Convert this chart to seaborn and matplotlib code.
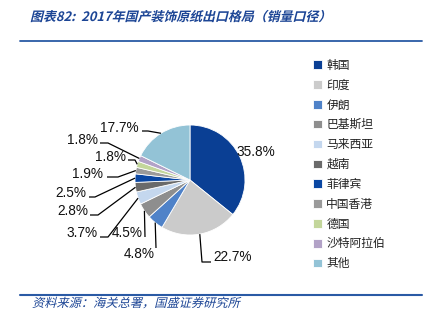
import matplotlib
matplotlib.use("Agg")
import matplotlib.pyplot as plt
import seaborn as sns
import numpy as np
from matplotlib.patheffects import AbstractPathEffect
from matplotlib.transforms import Affine2D
from matplotlib.lines import Line2D

# ---- data ----
categories = ["韩国", "印度", "伊朗", "巴基斯坦", "马来西亚", "越南", "菲律宾",
              "中国香港", "德国", "沙特阿拉伯", "其他"]
shares = [35.8, 22.7, 4.8, 4.5, 3.7, 2.8, 2.5, 1.9, 1.8, 1.8, 17.7]
pct_labels = ["35.8%", "22.7%", "4.8%", "4.5%", "3.7%", "2.8%", "2.5%",
              "1.9%", "1.8%", "1.8%", "17.7%"]
colors = ["#0a3f94", "#cbcbcb", "#4f82c8", "#8e8e8e", "#c4d7ee", "#6a6a6a",
          "#0a47a3", "#9a9a9a", "#c3d69b", "#b2a2c7", "#93c3d6"]
title = "图表82:  2017年国产装饰原纸出口格局（销量口径）"
source = "资料来源：海关总署，国盛证券研究所"

sns.set_theme(style="white")
plt.rcParams['font.family'] = ['Liberation Sans', 'Noto Sans CJK SC', 'DejaVu Sans']
palette = sns.color_palette(colors)

W, H = 425, 323
fig = plt.figure(figsize=(W / 100, H / 100), dpi=100)
fig.patch.set_facecolor("white")

# pie centre (pixels) and radius
CX, CY, R = 190, 180, 55
ax_l, ax_r, ax_t, ax_b = 0, 290, 45, 290
ax = fig.add_axes([ax_l / W, 1 - ax_b / H, (ax_r - ax_l) / W, (ax_b - ax_t) / H])

wedges, _ = ax.pie(shares, colors=palette, startangle=90, counterclock=False,
                   radius=1, center=(0, 0),
                   wedgeprops=dict(linewidth=0.6, edgecolor="white"))
ax.set_aspect("auto")
ax.set_xlim((ax_l - CX) / R, (ax_r - CX) / R)
ax.set_ylim((CY - ax_b) / R, (CY - ax_t) / R)
ax.axis("off")


def d(px, py):
    return (px - CX) / R, (CY - py) / R


# label layout: (text pos px, ha, elbow points px list)  -- layout only
layout = {
    0: dict(t=(256, 152), ha="center", pts=None),
    1: dict(t=(213, 257), ha="left", pts=[(202, 262), (211, 262)]),
    2: dict(t=(155, 254), ha="right", pts=[(156, 248)]),
    3: dict(t=(143, 233), ha="right", pts=[(145, 237)]),
    4: dict(t=(98, 233), ha="right", pts=[(108, 237), (100, 237)]),
    5: dict(t=(88, 211), ha="right", pts=[(98, 215), (90, 215)]),
    6: dict(t=(86, 193), ha="right", pts=[(95, 197), (89, 197)]),
    7: dict(t=(103, 174), ha="right", pts=[(118, 177), (107, 177)]),
    8: dict(t=(126, 157), ha="right", pts=[(135, 160), (128, 160)]),
    9: dict(t=(98, 140), ha="right", pts=[(108, 143), (100, 143)]),
    10: dict(t=(139, 128), ha="right", pts=[(148, 131), (142, 131)]),
}

for i, w in enumerate(wedges):
    theta = np.deg2rad((w.theta1 + w.theta2) / 2)
    anchor = (np.cos(theta), np.sin(theta))
    L = layout[i]
    tx, ty = d(*L["t"])
    ax.text(tx, ty, pct_labels[i], ha=L["ha"], va="center", fontsize=9.8,
            color="#111111")
    if L["pts"]:
        xs = [anchor[0]] + [d(*p)[0] for p in L["pts"]]
        ys = [anchor[1]] + [d(*p)[1] for p in L["pts"]]
        ax.plot(xs, ys, color="black", lw=0.9, solid_capstyle="butt",
                clip_on=False)

leg = fig.legend(wedges, categories, loc="upper left",
                 bbox_to_anchor=(308 / W, 1 - 54 / H), frameon=False,
                 prop=dict(family=['Noto Sans CJK SC'], size=8.5),
                 handlelength=0.75, handleheight=0.75, handletextpad=0.4,
                 labelspacing=0.58, borderaxespad=0)
for t in leg.get_texts():
    t.set_color("#222222")


class Slant(AbstractPathEffect):
    def __init__(self, deg=12):
        super().__init__()
        self.deg = deg

    def draw_path(self, renderer, gc, tpath, affine, rgbFace=None):
        renderer.draw_path(gc, tpath, Affine2D().skew_deg(self.deg, 0) + affine,
                           rgbFace)


blue = "#1c4595"
fig.text(30 / W, 1 - 17 / H, title, ha="left", va="center", fontsize=9.3,
         color=blue, family=['Noto Sans CJK SC'], fontweight="bold",
         path_effects=[Slant(14)])
fig.add_artist(Line2D([20 / W, 422 / W], [1 - 41 / H, 1 - 41 / H],
                      color="#2a5aa5", lw=1.3))
fig.add_artist(Line2D([20 / W, 422 / W], [1 - 294.5 / H, 1 - 294.5 / H],
                      color="#2a5aa5", lw=1.5))
fig.text(32 / W, 1 - 303.5 / H, source, ha="left", va="center", fontsize=8.8,
         color=blue, family=['Noto Sans CJK SC'], path_effects=[Slant(14)])

fig.savefig("out.png", dpi=100)
